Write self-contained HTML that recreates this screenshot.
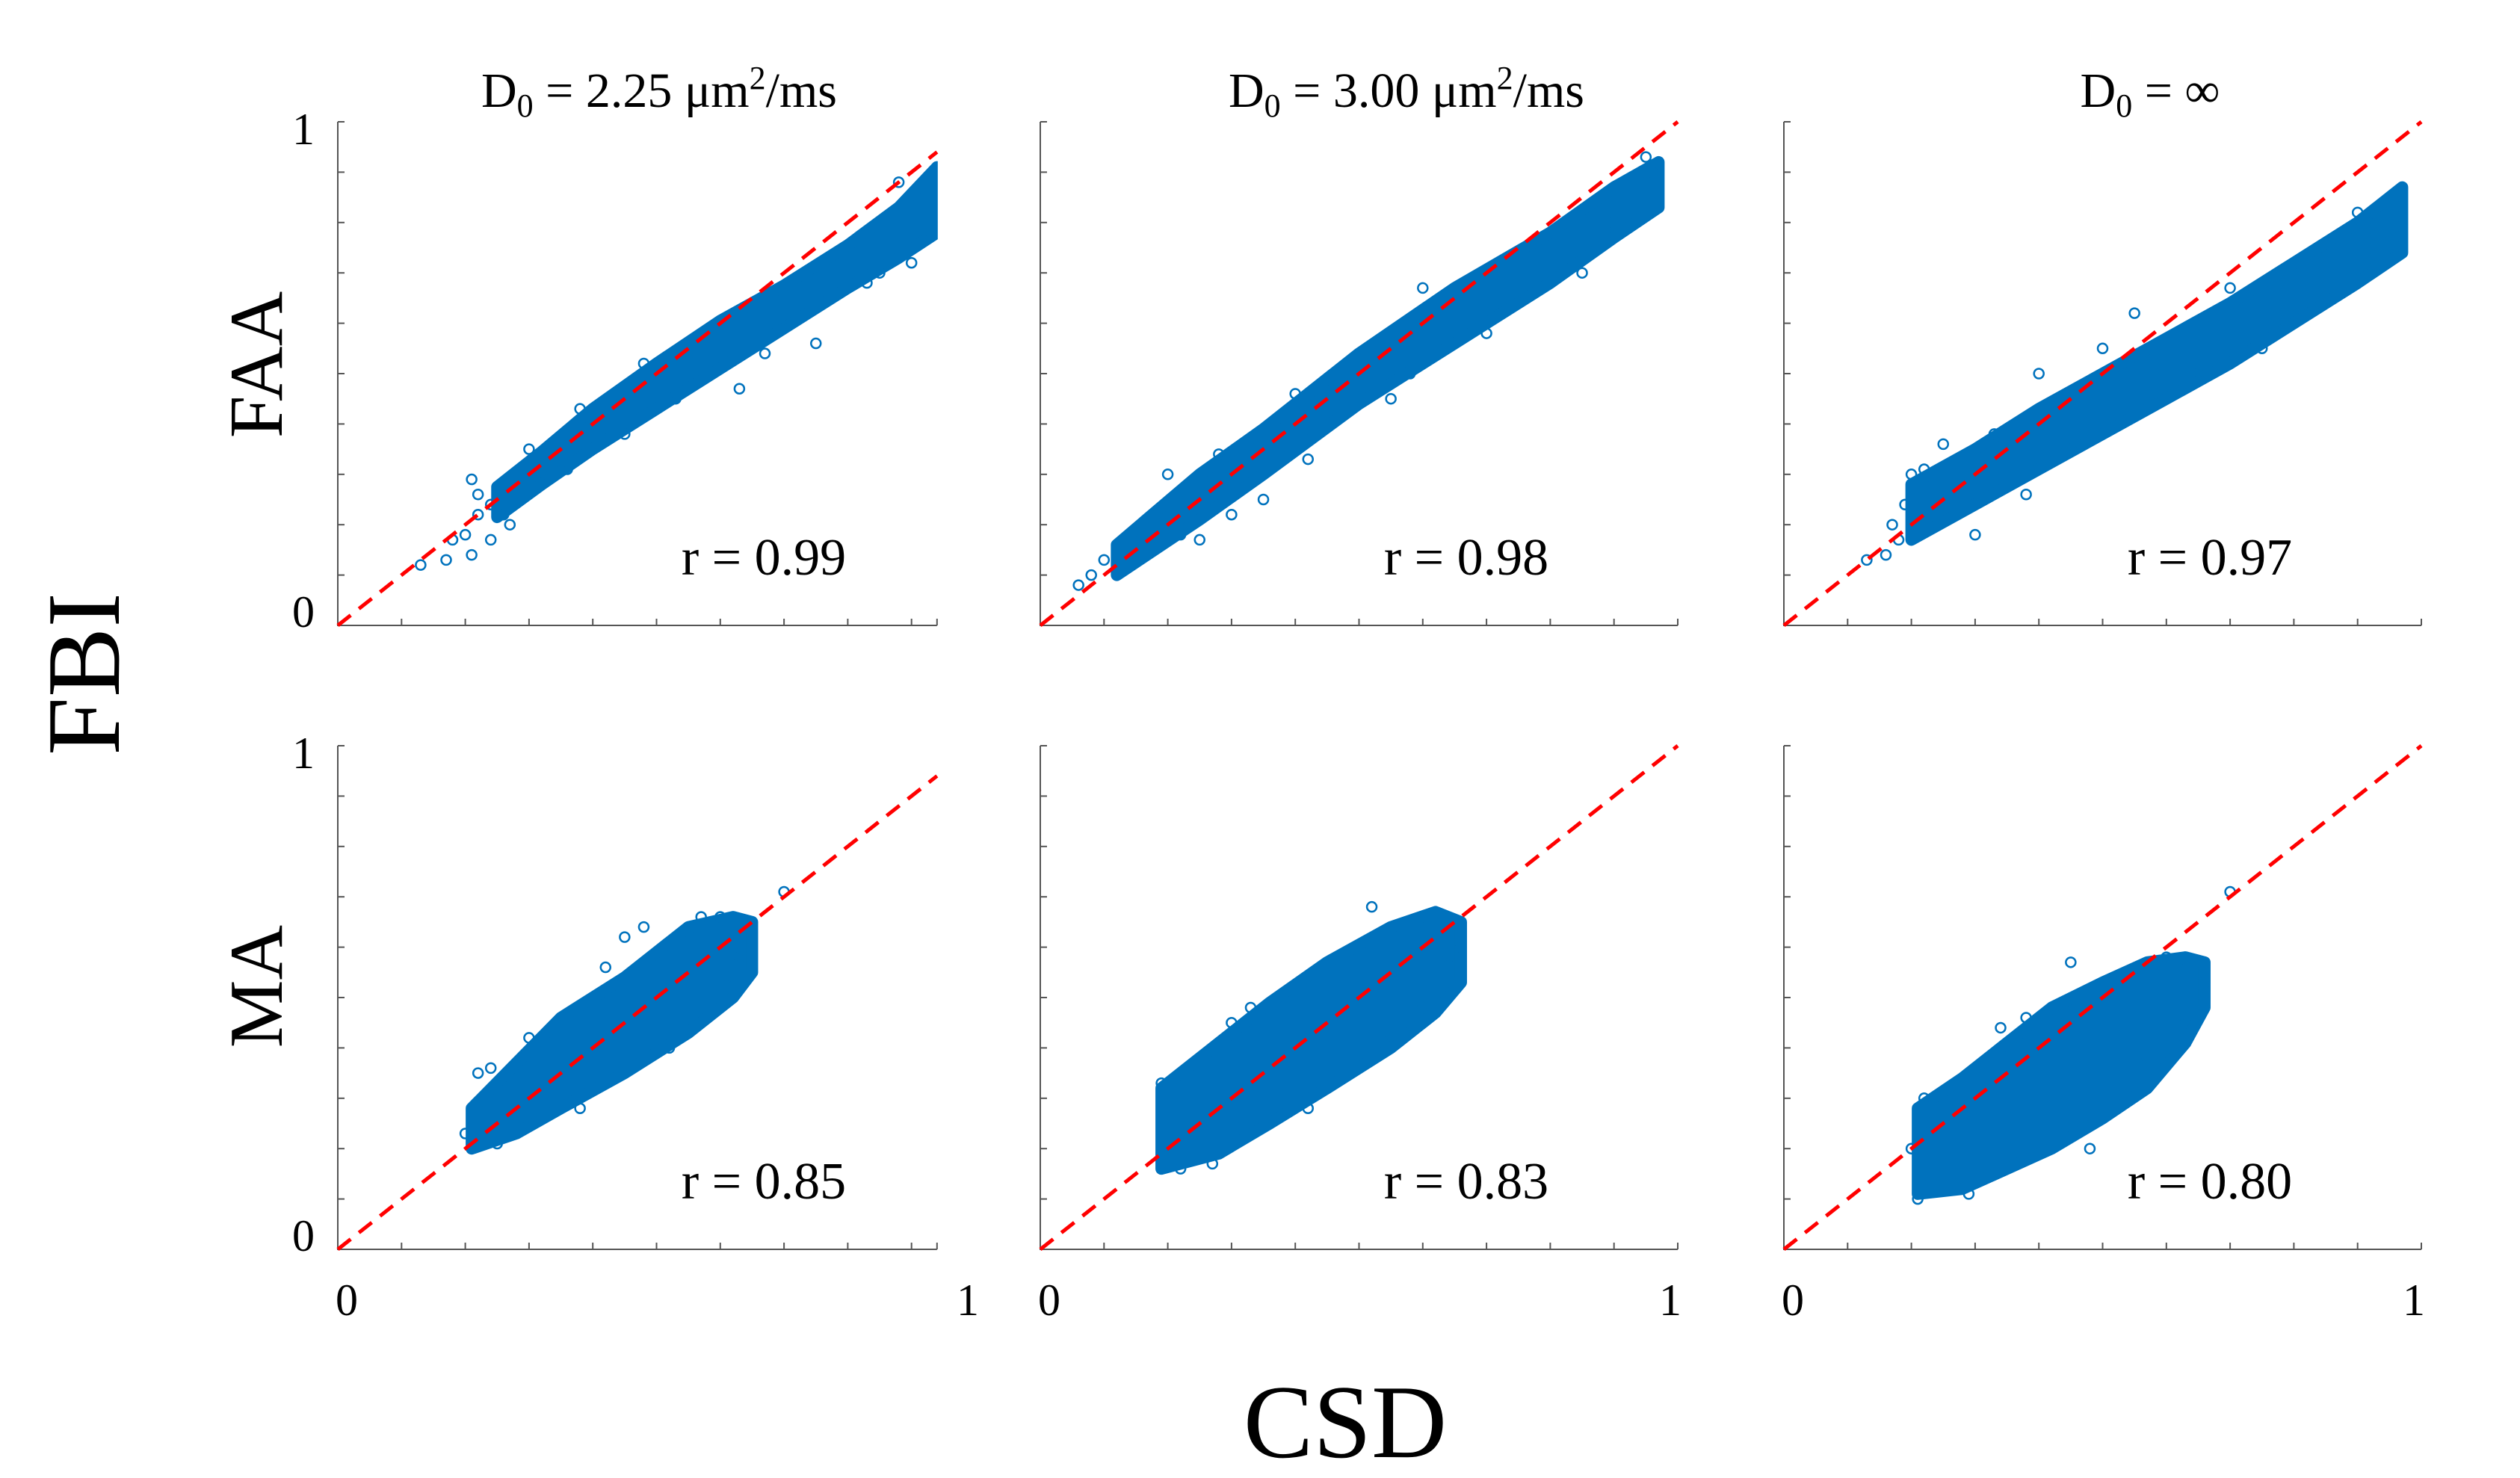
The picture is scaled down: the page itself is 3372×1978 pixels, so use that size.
<!DOCTYPE html>
<html><head><meta charset="utf-8"><style>
html,body{margin:0;padding:0;background:#fff;}
svg{display:block;font-family:"Liberation Serif","DejaVu Serif",serif;}
</style></head><body>
<svg id="fig" width="3372" height="1978" viewBox="0 0 3372 1978" xmlns="http://www.w3.org/2000/svg" font-family="Liberation Serif, serif">
<text x="113" y="902" font-size="140" text-anchor="middle" transform="rotate(-90 113 902)" dy="46">FBI</text>
<text x="1800" y="1950" font-size="140" text-anchor="middle">CSD</text>
<text x="343" y="488" font-size="102" text-anchor="middle" transform="rotate(-90 343 488)" dy="34">FAA</text>
<text x="343" y="1320" font-size="102" text-anchor="middle" transform="rotate(-90 343 1320)" dy="34">MA</text>
<text x="882" y="143" font-size="66" text-anchor="middle">D<tspan font-size="44" dy="13">0</tspan><tspan dy="-13"> = 2.25 μm</tspan><tspan font-size="44" dy="-24">2</tspan><tspan dy="24">/ms</tspan></text>
<text x="1882" y="143" font-size="66" text-anchor="middle">D<tspan font-size="44" dy="13">0</tspan><tspan dy="-13"> = 3.00 μm</tspan><tspan font-size="44" dy="-24">2</tspan><tspan dy="24">/ms</tspan></text>
<text x="2877" y="143" font-size="66" text-anchor="middle">D<tspan font-size="44" dy="13">0</tspan><tspan dy="-13"> = ∞</tspan></text>
</svg>
<script>
// ---- data ----
const rowLabels = ["FAA","MA"];
const colLabels = ["2.25","3.00","inf"];
const rValues = ["0.99","0.98","0.97","0.85","0.83","0.80"];
const xMaxes = [0.94, 1, 1];
const bandX1 = [0.25,0.32,0.40,0.50,0.60,0.70,0.80,0.88,0.94];
const bandLo1 = [0.215,0.28,0.35,0.43,0.51,0.59,0.67,0.73,0.78];
const bandHi1 = [0.275,0.345,0.43,0.52,0.605,0.675,0.755,0.83,0.91];
const out1 = [[0.13,0.12],[0.17,0.13],[0.18,0.17],[0.20,0.18],[0.21,0.14],[0.21,0.29],[0.22,0.26],[0.24,0.17],[0.27,0.20],[0.28,0.30],[0.32,0.30],[0.36,0.31],[0.30,0.35],[0.41,0.41],[0.50,0.50],[0.55,0.54],[0.88,0.88],[0.75,0.56],[0.63,0.47],[0.70,0.59],[0.85,0.70],[0.45,0.38],[0.22,0.22],[0.24,0.24],[0.26,0.22],[0.33,0.34],[0.38,0.43],[0.48,0.52],[0.53,0.45],[0.67,0.54],[0.83,0.68],[0.90,0.72],[0.92,0.78]];
const bandX2 = [0.12,0.25,0.35,0.50,0.65,0.80,0.90,0.97];
const bandLo2 = [0.10,0.21,0.30,0.44,0.56,0.68,0.77,0.83];
const bandHi2 = [0.16,0.30,0.39,0.54,0.67,0.78,0.87,0.92];
const out2 = [[0.06,0.08],[0.08,0.10],[0.10,0.13],[0.12,0.11],[0.20,0.30],[0.30,0.22],[0.35,0.25],[0.45,0.42],[0.55,0.45],[0.70,0.58],[0.85,0.70],[0.60,0.67],[0.95,0.93],[0.25,0.17],[0.18,0.22],[0.22,0.18],[0.28,0.34],[0.40,0.46],[0.42,0.33],[0.58,0.50],[0.75,0.64],[0.90,0.80],[0.96,0.90]];
const bandX3 = [0.20,0.30,0.40,0.50,0.60,0.70,0.80,0.90,0.97];
const bandLo3 = [0.17,0.24,0.31,0.38,0.45,0.52,0.60,0.68,0.74];
const bandHi3 = [0.28,0.35,0.43,0.50,0.57,0.64,0.72,0.80,0.87];
const out3 = [[0.13,0.13],[0.16,0.14],[0.17,0.20],[0.20,0.30],[0.22,0.31],[0.25,0.36],[0.30,0.18],[0.38,0.26],[0.40,0.50],[0.55,0.62],[0.65,0.50],[0.75,0.55],[0.85,0.65],[0.90,0.82],[0.18,0.17],[0.19,0.24],[0.24,0.20],[0.33,0.38],[0.45,0.35],[0.50,0.55],[0.70,0.67],[0.80,0.60],[0.95,0.78]];
const bandX4 = [0.21,0.28,0.35,0.45,0.55,0.62,0.65];
const bandLo4 = [0.20,0.23,0.28,0.35,0.43,0.50,0.55];
const bandHi4 = [0.28,0.37,0.46,0.54,0.64,0.66,0.65];
const out4 = [[0.20,0.23],[0.22,0.35],[0.24,0.36],[0.45,0.62],[0.48,0.64],[0.61,0.54],[0.70,0.71],[0.38,0.28],[0.60,0.66],[0.25,0.21],[0.30,0.42],[0.42,0.56],[0.52,0.40],[0.63,0.58],[0.57,0.66]];
const bandX5 = [0.19,0.28,0.36,0.45,0.55,0.62,0.66];
const bandLo5 = [0.16,0.19,0.25,0.32,0.40,0.47,0.53];
const bandHi5 = [0.32,0.41,0.49,0.57,0.64,0.67,0.65];
const out5 = [[0.19,0.33],[0.22,0.16],[0.52,0.68],[0.64,0.58],[0.30,0.45],[0.27,0.17],[0.55,0.42],[0.19,0.19],[0.33,0.48],[0.42,0.28],[0.60,0.48],[0.66,0.60]];
const bandX6 = [0.21,0.28,0.35,0.42,0.50,0.57,0.63,0.66];
const bandLo6 = [0.11,0.12,0.16,0.20,0.26,0.32,0.41,0.48];
const bandHi6 = [0.28,0.34,0.41,0.48,0.53,0.57,0.58,0.57];
const out6 = [[0.21,0.10],[0.22,0.13],[0.23,0.25],[0.22,0.30],[0.34,0.44],[0.45,0.57],[0.60,0.58],[0.63,0.45],[0.57,0.38],[0.29,0.11],[0.70,0.71],[0.20,0.20],[0.38,0.46],[0.48,0.20],[0.66,0.53],[0.62,0.57]];

const bandsX = [bandX1,bandX2,bandX3,bandX4,bandX5,bandX6];
const bandsLo = [bandLo1,bandLo2,bandLo3,bandLo4,bandLo5,bandLo6];
const bandsHi = [bandHi1,bandHi2,bandHi3,bandHi4,bandHi5,bandHi6];
const outs = [out1,out2,out3,out4,out5,out6];

// ---- layout ----
const colLeft = [452,1392,2387];
const unitW = 853;
const rowTop = [163,998];
const plotH = 674;
const NS = "http://www.w3.org/2000/svg";
const svg = document.getElementById("fig");
function mk(tag, attrs, parent){const e=document.createElementNS(NS,tag);for(const k in attrs)e.setAttribute(k,attrs[k]);(parent||svg).appendChild(e);return e;}

for(let r=0;r<2;r++){for(let c=0;c<3;c++){
  const i=r*3+c;
  const L=colLeft[c], T=rowTop[r], B=T+plotH, xmax=xMaxes[c];
  const sx=v=>L+v*unitW, sy=v=>B-v*plotH;
  const g=mk("g",{});
  
  
  const clipId="clip"+i;
  const cp=mk("clipPath",{id:clipId},g);
  mk("rect",{x:L,y:T-20,width:xmax*unitW+1,height:plotH+20},cp);
  const ax=mk("path",{d:`M${L},${T} L${L},${B} L${sx(xmax)},${B}`,fill:"none",stroke:"#555","stroke-width":2},g);
  
  
  for(let k=1;k<=10;k++){
    const t=mk("line",{x1:L,x2:L+9,y1:sy(k/10),y2:sy(k/10),stroke:"#555","stroke-width":2},g);
    
    
    if(k/10<=xmax+1e-9){
      const t2=mk("line",{x1:sx(k/10),x2:sx(k/10),y1:B,y2:B-9,stroke:"#555","stroke-width":2},g);
      
      
    }
  }
  if(xmax<1){const t3=mk("line",{x1:sx(xmax),x2:sx(xmax),y1:B,y2:B-9,stroke:"#555","stroke-width":2},g);
    
    }
  const dg=mk("g",{"clip-path":`url(#${clipId})`},g);
  const bx=bandsX[i], lo=bandsLo[i], hi=bandsHi[i];
  let pts=[];
  for(let k=0;k<bx.length;k++)pts.push(sx(bx[k])+","+sy(hi[k]));
  for(let k=bx.length-1;k>=0;k--)pts.push(sx(bx[k])+","+sy(lo[k]));
  const band=mk("polygon",{points:pts.join(" "),fill:"#0072bd",stroke:"#0072bd","stroke-width":16,"stroke-linejoin":"round"},dg);
  
  
  for(const p of outs[i]){
    const ci=mk("circle",{cx:sx(p[0]),cy:sy(p[1]),r:6.5,fill:"none",stroke:"#0072bd","stroke-width":2.5},dg);
    
    
  }
  const ln=mk("line",{x1:sx(0),y1:sy(0),x2:sx(xmax),y2:sy(xmax),stroke:"#ff0000","stroke-width":5,"stroke-dasharray":"22 14"},g);
  
  
  const rt=mk("text",{x:L+570,y:B-68,"font-size":70,"text-anchor":"middle"},g);
  rt.textContent="r = "+rValues[i];
  
  
  if(c===0){
    const a=mk("text",{x:L-46,y:T+30,"font-size":60,"text-anchor":"middle"},g);a.textContent="1";
    
    
    const b=mk("text",{x:L-46,y:B+2,"font-size":60,"text-anchor":"middle"},g);b.textContent="0";
    
    
  }
  if(r===1){
    const a=mk("text",{x:L+12,y:B+88,"font-size":60,"text-anchor":"middle"},g);a.textContent="0";
    
    
    const b=mk("text",{x:L+unitW-10,y:B+88,"font-size":60,"text-anchor":"middle"},g);b.textContent="1";
    
    
  }
}}
</script>
</body></html>
